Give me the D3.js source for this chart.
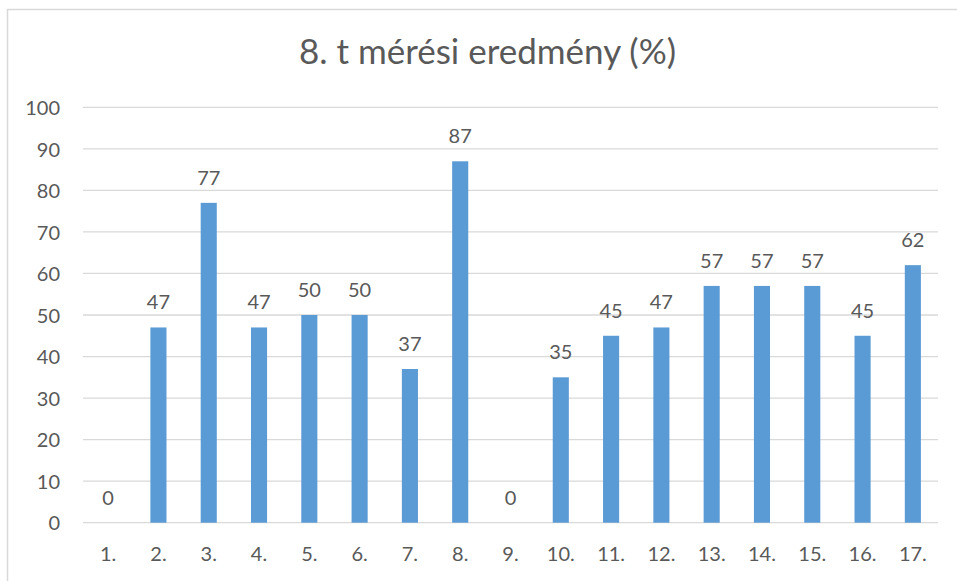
<!DOCTYPE html>
<html>
<head>
<meta charset="utf-8">
<script src="https://cdn.jsdelivr.net/npm/d3@7"></script>
<style>
  body { margin: 0; background: #fff; }
  text { font-family: Lato, "Open Sans", sans-serif; fill: #595959; }
</style>
</head>
<body>
<div id="main"></div>
<script>
const categories = ["1.", "2.", "3.", "4.", "5.", "6.", "7.", "8.", "9.", "10.", "11.", "12.", "13.", "14.", "15.", "16.", "17."];
const values = [0, 47, 77, 47, 50, 50, 37, 87, 0, 35, 45, 47, 57, 57, 57, 45, 62];
const yTicks = [0, 10, 20, 30, 40, 50, 60, 70, 80, 90, 100];
const title = "8. t mérési eredmény (%)";

const W = 957, H = 581;
const plot = {left: 83, right: 938, top: 107.3, bottom: 522.7};

const svg = d3.select("#main")
    .append("svg")
    .attr("width", W)
    .attr("height", H);

// chart frame (right/bottom edges run off the picture)
svg.append("rect")
    .attr("x", 7.5).attr("y", 9.5)
    .attr("width", 970).attr("height", 600)
    .attr("fill", "#fff")
    .attr("stroke", "#d9d9d9")
    .attr("stroke-width", 1.5);

const x = d3.scaleBand()
    .domain(categories)
    .range([plot.left, plot.right])
    .paddingInner(0.68)
    .paddingOuter(0.34);

const y = d3.scaleLinear()
    .domain([0, 100])
    .range([plot.bottom, plot.top]);

// gridlines
svg.append("g")
    .selectAll("line")
    .data(yTicks)
    .enter()
    .append("line")
    .attr("x1", plot.left)
    .attr("x2", plot.right)
    .attr("y1", d => y(d))
    .attr("y2", d => y(d))
    .attr("stroke", "#d9d9d9")
    .attr("stroke-width", 1.3);

// y axis labels
const yAxis = d3.axisLeft(y).tickValues(yTicks).tickSize(0).tickPadding(0);
const gy = svg.append("g")
    .attr("transform", "translate(60,0)")
    .call(yAxis);
gy.select(".domain").remove();
gy.selectAll("text")
    .attr("font-size", 20)
    .attr("font-family", null)
    .attr("fill", "#595959")
    .attr("dy", "0.36em");

// x axis labels
const xAxis = d3.axisBottom(x).tickSize(0).tickPadding(0);
const gx = svg.append("g")
    .attr("transform", "translate(0,561)")
    .call(xAxis);
gx.select(".domain").remove();
gx.selectAll("text")
    .attr("font-size", 20)
    .attr("font-family", null)
    .attr("fill", "#595959")
    .attr("dy", 0);

// bars
svg.append("g")
    .selectAll("rect")
    .data(values)
    .enter()
    .append("rect")
    .attr("x", (d, i) => x(categories[i]))
    .attr("width", x.bandwidth())
    .attr("y", d => y(d))
    .attr("height", d => y(0) - y(d))
    .attr("fill", "#5b9bd5");

// data labels
svg.append("g")
    .selectAll("text")
    .data(values)
    .enter()
    .append("text")
    .attr("x", (d, i) => x(categories[i]) + x.bandwidth() / 2)
    .attr("y", d => y(d) - 18)
    .attr("text-anchor", "middle")
    .attr("font-size", 20)
    .text(d => d);

// title
svg.append("text")
    .attr("x", 487.5)
    .attr("y", 64)
    .attr("text-anchor", "middle")
    .attr("font-size", 35)
    .text(title);
</script>
</body>
</html>
